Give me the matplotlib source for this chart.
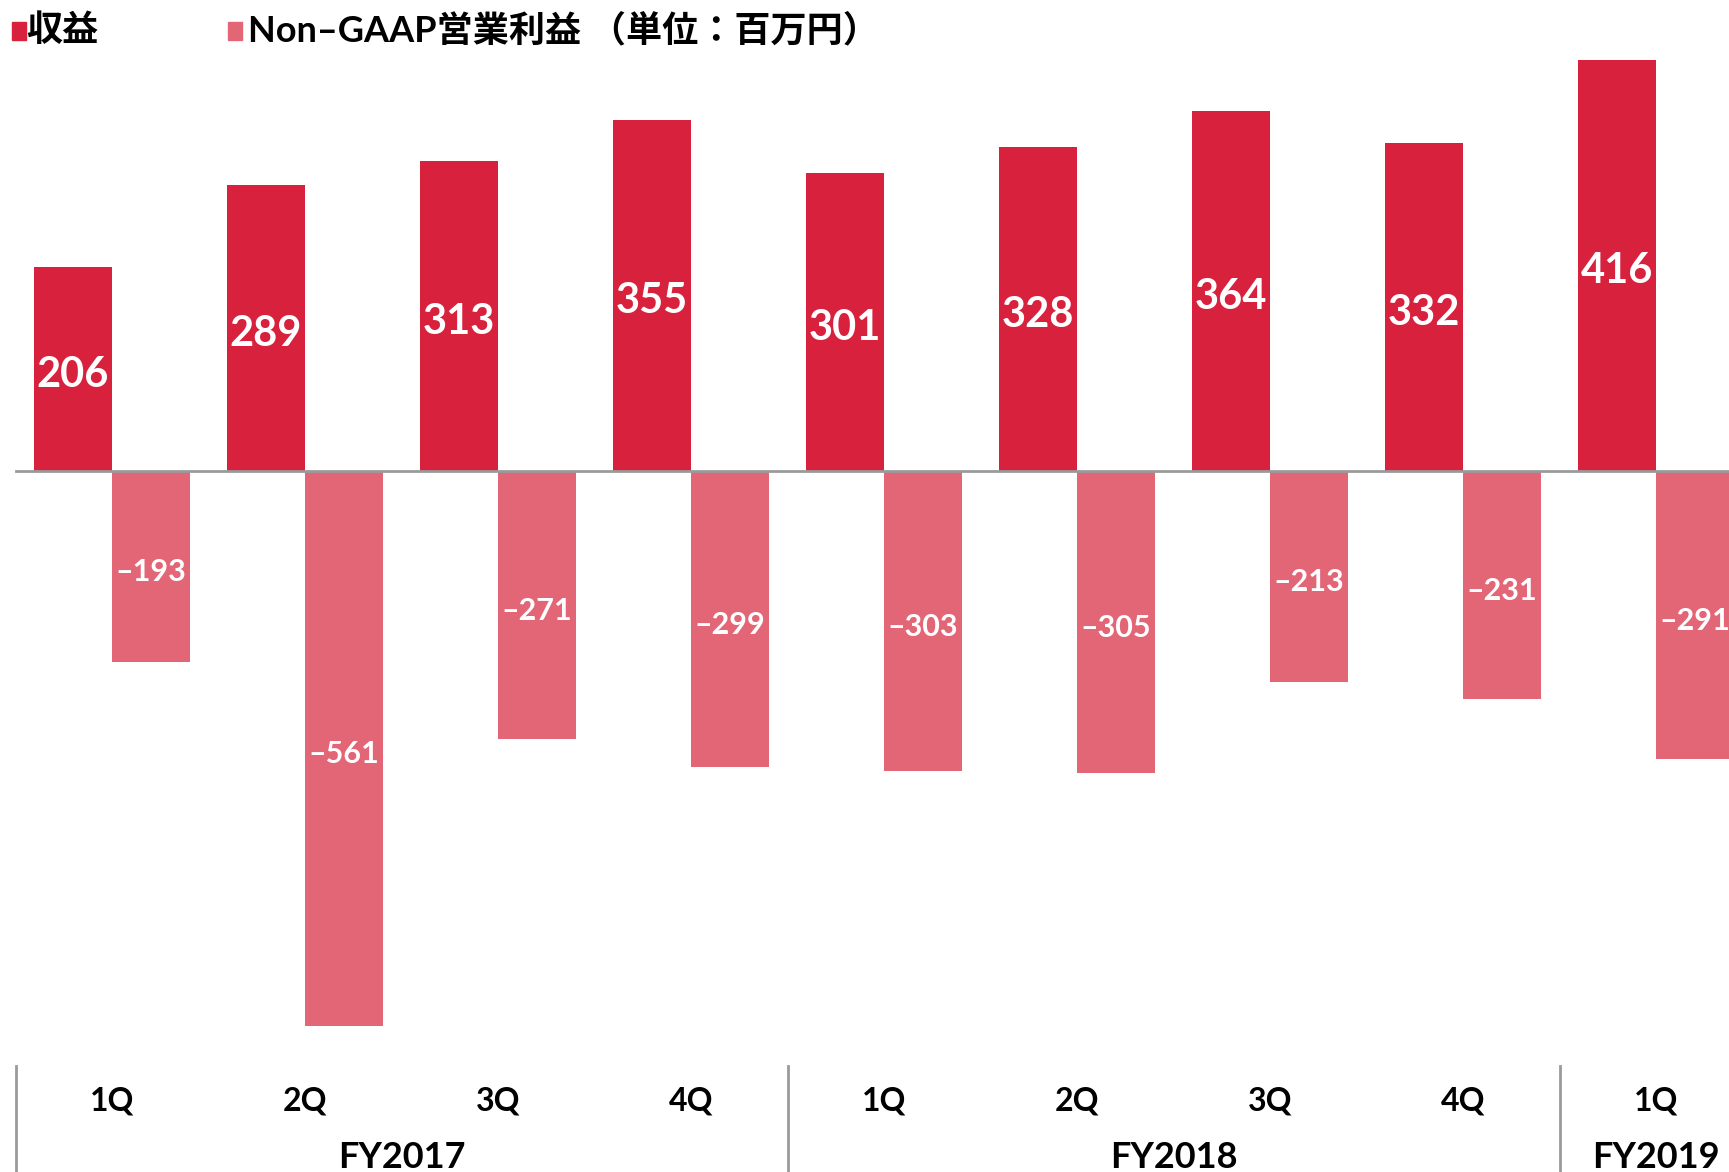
import matplotlib.pyplot as plt
from matplotlib.patches import Rectangle
from matplotlib.transforms import blended_transform_factory

plt.rcParams['font.family'] = ['Lato', 'Noto Sans CJK JP', 'DejaVu Sans']

quarters = ["1Q", "2Q", "3Q", "4Q", "1Q", "2Q", "3Q", "4Q", "1Q"]
years = ["FY2017", "FY2018", "FY2019"]
year_span = [(0, 3), (4, 7), (8, 8)]
revenue = [206, 289, 313, 355, 301, 328, 364, 332, 416]
profit = [-193, -561, -271, -299, -303, -305, -213, -231, -291]

red = "#D8223D"
pink = "#E36677"
grey = "#9A9A9A"

W, H = 1729, 1172
fig = plt.figure(figsize=(W / 100, H / 100), dpi=100)
ax = fig.add_axes([0, 1 - 1066 / H, 1, 1066 / H])
ax.axis("off")

w = 0.405
x = list(range(len(quarters)))
ax.bar([i - w / 2 for i in x], revenue, width=w, color=red, zorder=2)
ax.bar([i + w / 2 for i in x], profit, width=w, color=pink, zorder=2)
ax.plot([-0.5, 9], [0, 0], color=grey, lw=2, zorder=3, clip_on=True)

ax.set_xlim(-112 / 193, (W - 112) / 193)
scale = 0.989
ax.set_ylim(-(1066 - 471) / scale, 471 / scale)

off = 6  # labels sit a bit below the bar middle
for i in x:
    ax.text(i - w / 2, revenue[i] / 2 - off, str(revenue[i]), color="white",
            fontsize=30, fontweight="bold", ha="center", va="center", zorder=4)
    ax.text(i + w / 2, profit[i] / 2 - off, "–" + str(-profit[i]), color="white",
            fontsize=22, fontweight="bold", ha="center", va="center", zorder=4,
            clip_on=True)

# category axis below the plot
tr = blended_transform_factory(ax.transData, fig.transFigure)
for i, q in enumerate(quarters):
    ax.text(i, 1 - 1101 / H, q, transform=tr, fontsize=23, fontweight="bold",
            ha="center", va="center", clip_on=False)
for name, (a, b) in zip(years, year_span):
    ax.text((a + b) / 2, 1 - 1158 / H, name, transform=tr, fontsize=26,
            fontweight="bold", ha="center", va="center", clip_on=False)
for s in [-0.5, 3.5, 7.5]:
    ax.plot([s, s], [0, 1 - 1066 / H], transform=tr, color=grey, lw=2,
            clip_on=False)

# legend
fig.patches.append(Rectangle((12 / W, 1 - 40 / H), 14 / W, 18 / H,
                             color=red, transform=fig.transFigure))
fig.text(26 / W, 1 - 30 / H, "収益", fontsize=26, fontweight="bold",
         va="center")
fig.patches.append(Rectangle((228 / W, 1 - 40 / H), 14 / W, 18 / H,
                             color=pink, transform=fig.transFigure))
fig.text(248 / W, 1 - 30 / H, "Non–GAAP営業利益 （単位：百万円）",
         fontsize=26, fontweight="bold", va="center")

fig.savefig("out.png", dpi=100)
